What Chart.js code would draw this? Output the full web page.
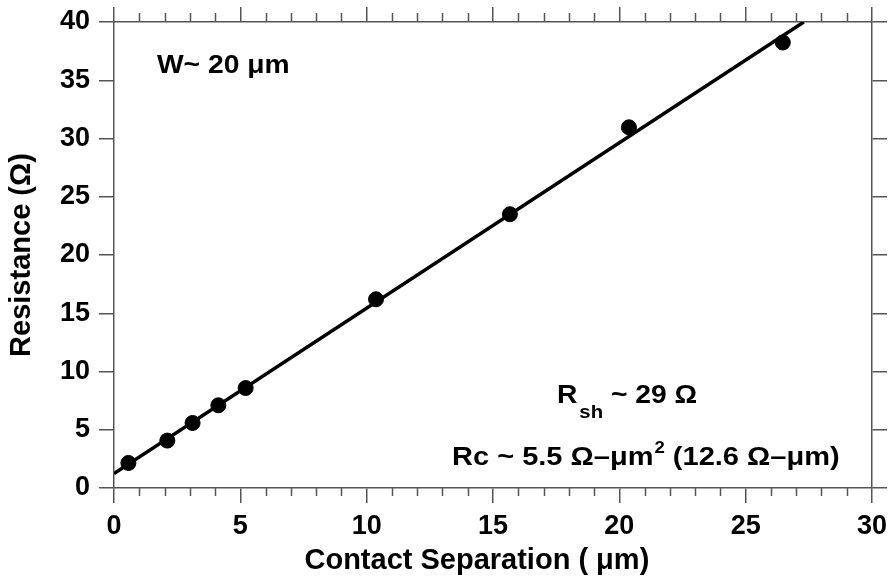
<!DOCTYPE html>
<html>
<head>
<meta charset="utf-8">
<script src="https://cdn.jsdelivr.net/npm/chart.js@4.4.1/dist/chart.umd.min.js"></script>
<style>
  html, body { margin: 0; padding: 0; background: #fff; }
  #wrap { width: 890px; height: 579px; }
</style>
</head>
<body>
<div id="wrap"><canvas id="tlm"></canvas></div>
<script>
// measured TLM points
const separation = [0.57, 2.11, 3.11, 4.13, 5.21, 10.37, 15.67, 20.38, 26.47];
const resistance = [2.15, 4.07, 5.58, 7.10, 8.58, 16.2, 23.5, 30.96, 38.24];

// linear fit end points
const fitX = [0, 27.3];
const fitY = [1.24, 40];

const xTicks = [0, 5, 10, 15, 20, 25, 30];
const yTicks = [0, 5, 10, 15, 20, 25, 30, 35, 40];

const AXIS = '#555';
const FONT = "'Liberation Sans', Arial, sans-serif";

// minor ticks on top and bottom, plus the text notes
const extras = {
    id: 'extras',
    afterDraw(chart) {
        const { ctx } = chart;
        const x = chart.scales.x, y = chart.scales.y;
        const top = chart.chartArea.top, bottom = chart.chartArea.bottom;

        ctx.save();
        ctx.strokeStyle = AXIS;
        ctx.lineWidth = 1.5;
        for (let v = 0; v <= 30; v++) {
            if (v % 5 === 0) continue;
            const px = Math.round(x.getPixelForValue(v)) + 0.5;
            ctx.beginPath();
            ctx.moveTo(px, bottom); ctx.lineTo(px, bottom + 8);
            ctx.moveTo(px, top); ctx.lineTo(px, top - 9);
            ctx.stroke();
        }
        ctx.restore();

        const put = (txt, size, px, py, stretch = 1.13) => {
            ctx.save();
            ctx.font = `bold ${size}px ${FONT}`;
            ctx.fillStyle = '#000';
            ctx.textBaseline = 'alphabetic';
            ctx.translate(px, py);
            ctx.scale(stretch, 1);
            ctx.fillText(txt, 0, 0);
            const w = ctx.measureText(txt).width * stretch;
            ctx.restore();
            return px + w;
        };

        put('W~ 20 \u03bcm', 25, x.getPixelForValue(1.7), y.getPixelForValue(35.6));

        let px = x.getPixelForValue(17.53);
        let py = y.getPixelForValue(7.27);
        px = put('R', 25, px, py);
        px = put('sh', 18, px + 2, py + 15);
        put(' ~ 29 \u03a9', 25, px, py);

        px = x.getPixelForValue(13.38);
        py = y.getPixelForValue(1.95);
        px = put('Rc ~ 5.5 \u03a9\u2013\u03bcm', 25, px, py, 1.16);
        px = put('2', 16, px + 1, py - 12, 1.16);
        put(' (12.6 \u03a9\u2013\u03bcm)', 25, px, py, 1.16);
    }
};

const points = separation.map((s, i) => ({ x: s, y: resistance[i] }));
const fit = fitX.map((s, i) => ({ x: s, y: fitY[i] }));

const tickFont = { family: FONT, size: 27, weight: 'bold' };
const titleFont = { family: FONT, size: 29, weight: 'bold' };

function fixSize(s, axis, size) {
    if (axis === 'x') {
        s.height = size;
        s.paddingLeft = 0;
        s.paddingRight = 0;
    } else {
        s.width = size;
        s.paddingTop = 0;
        s.paddingBottom = 0;
    }
}

function edgeAxis(position, axis, size) {
    const vals = axis === 'x' ? xTicks : yTicks;
    return {
        type: 'linear',
        position,
        axis,
        min: vals[0],
        max: vals[vals.length - 1],
        afterBuildTicks: s => { s.ticks = vals.map(v => ({ value: v })); },
        afterFit: s => fixSize(s, axis, size),
        ticks: { display: false },
        grid: { drawOnChartArea: false, drawTicks: true, tickLength: 15, color: AXIS, lineWidth: 1.5 },
        border: { display: true, color: AXIS, width: 1.5 }
    };
}

new Chart(document.getElementById('tlm'), {
    type: 'scatter',
    data: {
        datasets: [
            {
                label: 'fit',
                data: fit,
                showLine: true,
                borderColor: '#000',
                borderWidth: 3.5,
                pointRadius: 0,
                order: 2
            },
            {
                label: 'data',
                data: points,
                backgroundColor: '#000',
                borderColor: '#000',
                pointRadius: 7.5,
                order: 1
            }
        ]
    },
    options: {
        responsive: true,
        maintainAspectRatio: false,
        animation: false,
        layout: { padding: 0 },
        plugins: {
            legend: { display: false },
            tooltip: { enabled: false }
        },
        scales: {
            x: {
                type: 'linear',
                position: 'bottom',
                min: 0,
                max: 30,
                afterBuildTicks: s => { s.ticks = xTicks.map(v => ({ value: v })); },
                afterFit: s => fixSize(s, 'x', 91),
                ticks: { font: tickFont, color: '#000', padding: 7, maxRotation: 0 },
                grid: { drawOnChartArea: false, drawTicks: true, tickLength: 15, color: AXIS, lineWidth: 1.5 },
                border: { display: true, color: AXIS, width: 1.5 },
                // trailing spaces nudge the title left, as in the original
                title: { display: true, text: 'Contact Separation ( \u03bcm)\u00a0\u00a0\u00a0\u00a0', font: titleFont, color: '#000', padding: { top: 0, bottom: 1 } }
            },
            y: {
                type: 'linear',
                position: 'left',
                min: 0,
                max: 40,
                afterBuildTicks: s => { s.ticks = yTicks.map(v => ({ value: v })); },
                afterFit: s => fixSize(s, 'y', 114),
                ticks: { font: tickFont, color: '#000', padding: 9 },
                grid: { drawOnChartArea: false, drawTicks: true, tickLength: 15, color: AXIS, lineWidth: 1.5 },
                border: { display: true, color: AXIS, width: 1.5 },
                title: { display: true, text: 'Resistance (\u03a9)', font: titleFont, color: '#000', padding: { top: 5, bottom: 0 } }
            },
            x2: edgeAxis('top', 'x', 22),
            y2: edgeAxis('right', 'y', 18)
        }
    },
    plugins: [extras]
});
</script>
</body>
</html>
